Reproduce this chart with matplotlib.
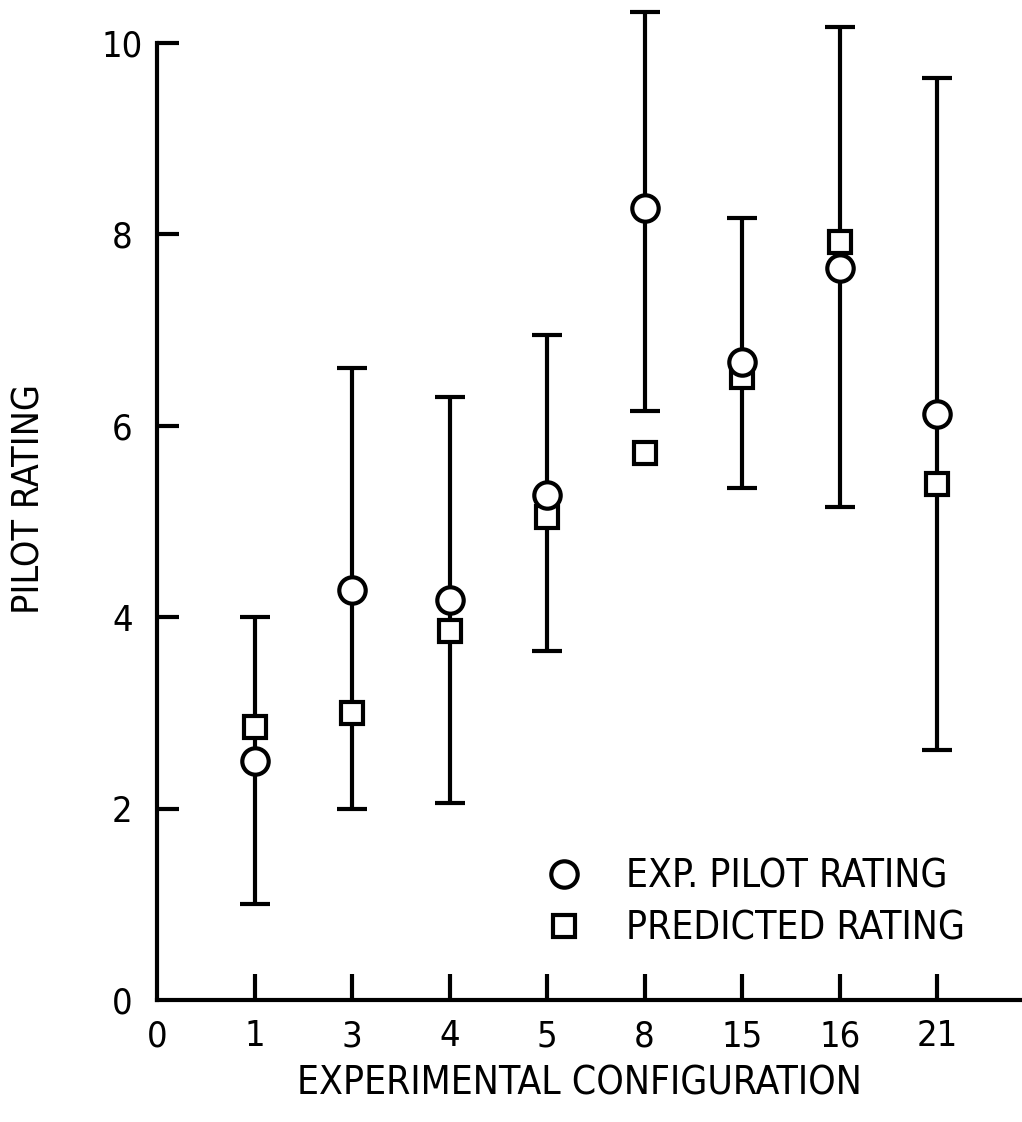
import numpy as np
import matplotlib
matplotlib.use("Agg")
import matplotlib.pyplot as plt

# Data
configs = ["1", "3", "4", "5", "8", "15", "16", "21"]
exp_rating = [2.5, 4.28, 4.18, 5.28, 8.28, 6.67, 7.65, 6.12]
pred_rating = [2.85, 3.0, 3.86, 5.05, 5.72, 6.51, 7.92, 5.39]
range_low = [1.0, 2.0, 2.06, 3.65, 6.15, 5.35, 5.15, 2.61]
range_high = [4.0, 6.6, 6.3, 6.95, 10.32, 8.17, 10.17, 9.63]

plt.rcParams["font.family"] = "DejaVu Sans"
plt.rcParams["font.stretch"] = "condensed"

fig = plt.figure(figsize=(10.22, 11.22), dpi=100)
ax = fig.add_axes([0.1536, 0.1087, 0.8464, 0.8913])

x = np.arange(1, len(configs) + 1)
mid = (np.array(range_low) + np.array(range_high)) / 2
err = [mid - np.array(range_low), np.array(range_high) - mid]

ax.errorbar(x, mid, yerr=err, fmt="none", ecolor="black", elinewidth=3,
            capsize=11, capthick=3, clip_on=False, zorder=2)
ax.plot(x, exp_rating, "o", ms=19, mfc="white", mec="black", mew=3,
        ls="none", clip_on=False, zorder=4, label="EXP. PILOT RATING")
ax.plot(x, pred_rating, "s", ms=16.5, mfc="white", mec="black", mew=3,
        ls="none", clip_on=False, zorder=3, label="PREDICTED RATING")

ax.set_xlim(0, 8.87)
ax.set_ylim(0, 10.45)
ax.set_xticks(np.arange(0, len(configs) + 1))
ax.set_xticklabels(["0"] + configs, fontsize=26)
ax.set_yticks(np.arange(0, 11, 2))
ax.set_yticklabels([str(v) for v in range(0, 11, 2)], fontsize=26, ha="center")

ax.spines["top"].set_visible(False)
ax.spines["right"].set_visible(False)
ax.spines["left"].set_bounds(0, 10)
ax.spines["left"].set_linewidth(3)
ax.spines["bottom"].set_linewidth(3)

ax.tick_params(axis="y", direction="in", length=16, width=3, pad=25)
ax.tick_params(axis="x", direction="in", length=19, width=3, pad=14)
# no tick drawn at the origin
ax.xaxis.get_major_ticks()[0].tick1line.set_visible(False)
ax.yaxis.get_major_ticks()[0].tick1line.set_visible(False)

fig.text(0.029, 0.555, "PILOT RATING", rotation=90, ha="center", va="center",
         fontsize=27)
fig.text(0.567, 0.034, "EXPERIMENTAL CONFIGURATION", ha="center", va="center",
         fontsize=28)

ax.legend(loc="upper left", bbox_to_anchor=(0.43, 0.158), frameon=False,
          prop={"size": 28, "stretch": "condensed"}, handlelength=1.0,
          handletextpad=1.1, labelspacing=0.35, borderaxespad=0)

fig.savefig("out.png", dpi=100)
